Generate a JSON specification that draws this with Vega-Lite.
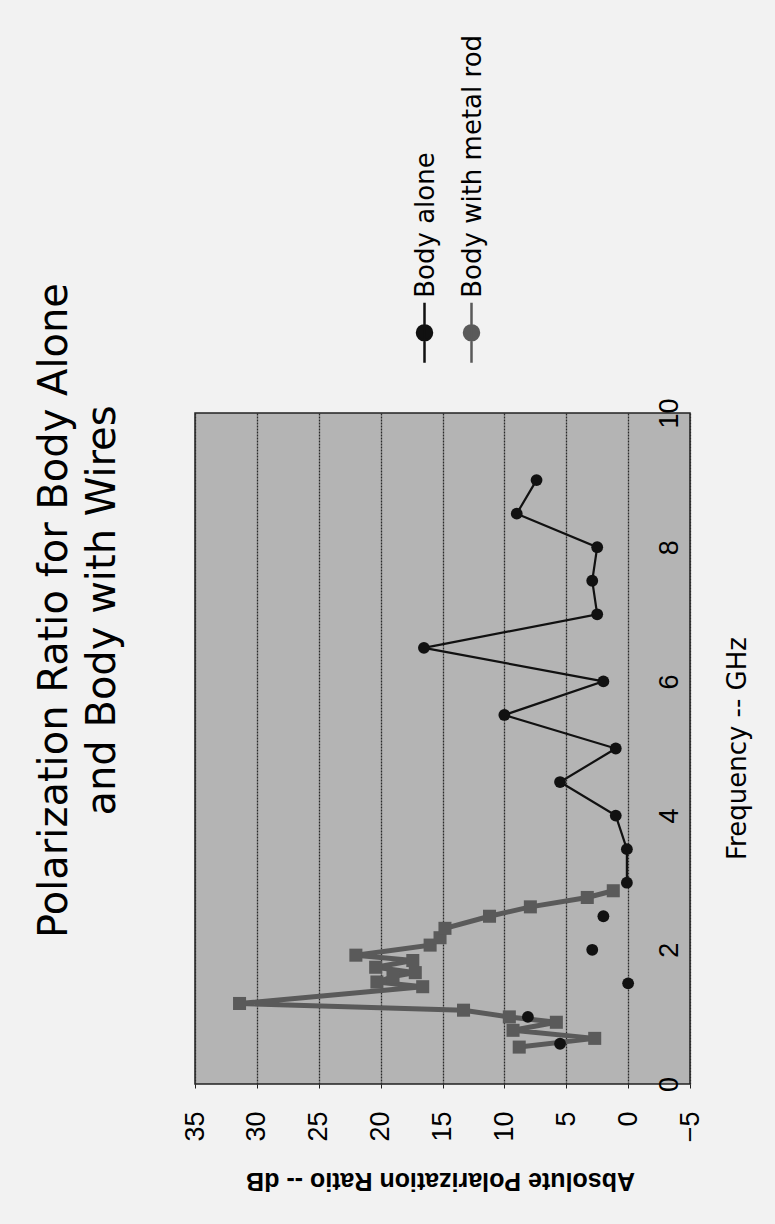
{
  "$schema": "https://vega.github.io/schema/vega-lite/v6.json",
  "width": 495,
  "height": 671,
  "autosize": "none",
  "padding": {"left": 195, "top": 413, "right": 85, "bottom": 140},
  "background": "#f2f2f2",
  "title": {
    "text": ["Polarization Ratio for Body Alone", "and Body with Wires"],
    "orient": "left",
    "anchor": "middle",
    "font": "DejaVu Sans",
    "fontSize": 40,
    "fontWeight": "normal",
    "lineHeight": 48,
    "color": "#000000",
    "offset": 58,
    "dx": 138
  },
  "data": {
    "values": [
      {"series": "Body with metal rod", "freq": 0.55, "db": 8.8, "seg": "m"},
      {"series": "Body with metal rod", "freq": 0.68, "db": 2.7, "seg": "m"},
      {"series": "Body with metal rod", "freq": 0.8, "db": 9.3, "seg": "m"},
      {"series": "Body with metal rod", "freq": 0.92, "db": 5.8, "seg": "m"},
      {"series": "Body with metal rod", "freq": 1.0, "db": 9.6, "seg": "m"},
      {"series": "Body with metal rod", "freq": 1.1, "db": 13.3, "seg": "m"},
      {"series": "Body with metal rod", "freq": 1.2, "db": 31.4, "seg": "m"},
      {"series": "Body with metal rod", "freq": 1.45, "db": 16.6, "seg": "m"},
      {"series": "Body with metal rod", "freq": 1.52, "db": 20.3, "seg": "m"},
      {"series": "Body with metal rod", "freq": 1.6, "db": 19.0, "seg": "m"},
      {"series": "Body with metal rod", "freq": 1.66, "db": 17.2, "seg": "m"},
      {"series": "Body with metal rod", "freq": 1.74, "db": 20.4, "seg": "m"},
      {"series": "Body with metal rod", "freq": 1.84, "db": 17.4, "seg": "m"},
      {"series": "Body with metal rod", "freq": 1.92, "db": 22.0, "seg": "m"},
      {"series": "Body with metal rod", "freq": 2.07, "db": 16.0, "seg": "m"},
      {"series": "Body with metal rod", "freq": 2.18, "db": 15.2, "seg": "m"},
      {"series": "Body with metal rod", "freq": 2.32, "db": 14.8, "seg": "m"},
      {"series": "Body with metal rod", "freq": 2.5, "db": 11.2, "seg": "m"},
      {"series": "Body with metal rod", "freq": 2.64, "db": 7.9, "seg": "m"},
      {"series": "Body with metal rod", "freq": 2.78, "db": 3.3, "seg": "m"},
      {"series": "Body with metal rod", "freq": 2.88, "db": 1.2, "seg": "m"},
      {"series": "Body alone", "freq": 9.0, "db": 7.4, "seg": "a"},
      {"series": "Body alone", "freq": 8.5, "db": 9.0, "seg": "a"},
      {"series": "Body alone", "freq": 8.0, "db": 2.5, "seg": "a"},
      {"series": "Body alone", "freq": 7.5, "db": 2.9, "seg": "a"},
      {"series": "Body alone", "freq": 7.0, "db": 2.5, "seg": "a"},
      {"series": "Body alone", "freq": 6.5, "db": 16.5, "seg": "a"},
      {"series": "Body alone", "freq": 6.0, "db": 2.0, "seg": "a"},
      {"series": "Body alone", "freq": 5.5, "db": 10.0, "seg": "a"},
      {"series": "Body alone", "freq": 5.0, "db": 1.0, "seg": "a"},
      {"series": "Body alone", "freq": 4.5, "db": 5.5, "seg": "a"},
      {"series": "Body alone", "freq": 4.0, "db": 1.0, "seg": "a"},
      {"series": "Body alone", "freq": 3.5, "db": 0.1, "seg": "a"},
      {"series": "Body alone", "freq": 3.0, "db": 0.1, "seg": "a"},
      {"series": "Body alone", "freq": 2.5, "db": 2.0, "seg": "b"},
      {"series": "Body alone", "freq": 2.0, "db": 2.9, "seg": "c"},
      {"series": "Body alone", "freq": 1.5, "db": 0.0, "seg": "d"},
      {"series": "Body alone", "freq": 1.0, "db": 8.1, "seg": "e"},
      {"series": "Body alone", "freq": 0.6, "db": 5.5, "seg": "f"}
    ]
  },
  "encoding": {
    "x": {
      "field": "db",
      "type": "quantitative",
      "scale": {"domain": [-5, 35], "reverse": true, "nice": false, "zero": false},
      "axis": {
        "values": [-5, 0, 5, 10, 15, 20, 25, 30, 35],
        "title": "Absolute Polarization Ratio -- dB",
        "titleFont": "Liberation Sans",
        "titleFontSize": 25,
        "titleFontWeight": "bold",
        "titleColor": "#000000",
        "titleAngle": 180,
        "titleX": 245,
        "titleY": 96,
        "titleAlign": "center",
        "titleBaseline": "middle",
        "labelAngle": 270,
        "labelAlign": "right",
        "labelBaseline": "middle",
        "labelFont": "Liberation Sans",
        "labelFontSize": 27,
        "labelColor": "#000000",
        "labelPadding": 23,
        "labelFlush": false,
        "labelOverlap": false,
        "tickSize": 4,
        "tickColor": "#222222",
        "domain": false,
        "grid": true,
        "gridColor": "#2a2a2a",
        "gridWidth": 1.3,
        "gridDash": [2, 1]
      }
    },
    "y": {
      "field": "freq",
      "type": "quantitative",
      "scale": {"domain": [0, 10], "nice": false},
      "axis": {
        "orient": "right",
        "values": [0, 2, 4, 6, 8, 10],
        "title": "Frequency -- GHz",
        "titleFont": "DejaVu Sans",
        "titleFontSize": 26,
        "titleFontWeight": "normal",
        "titleColor": "#000000",
        "titleAngle": 270,
        "titleX": 47,
        "titleY": 335,
        "titleAlign": "center",
        "titleBaseline": "middle",
        "labelAngle": 270,
        "labelAlign": "center",
        "labelBaseline": "middle",
        "labelFont": "Liberation Sans",
        "labelFontSize": 27,
        "labelColor": "#000000",
        "labelPadding": -21,
        "labelFlush": false,
        "labelOverlap": false,
        "ticks": false,
        "domain": false,
        "grid": false
      }
    },
    "color": {
      "field": "series",
      "type": "nominal",
      "scale": {"domain": ["Body alone", "Body with metal rod"], "range": ["#111111", "#5a5a5a"]},
      "legend": {
        "orient": "none",
        "legendX": 198,
        "legendY": -112,
        "direction": "horizontal",
        "title": null,
        "padding": 0,
        "columnPadding": -7,
        "symbolType": "M0,-1V1M-0.25,0A0.25,0.25,0,1,0,0.25,0A0.25,0.25,0,1,0,-0.25,0Z",
        "symbolSize": 3600,
        "symbolStrokeWidth": 2.5,
        "labelFont": "DejaVu Sans",
        "labelFontSize": 26,
        "labelColor": "#000000",
        "labelOffset": 0,
        "labelLimit": 600,
        "labelAlign": "left",
        "labelBaseline": "middle",
        "encode": {
          "labels": {"update": {"angle": {"value": -90}, "dx": {"value": 35}, "dy": {"value": -30}}},
          "symbols": {"update": {"fill": {"scale": "color", "field": "value"}, "stroke": {"scale": "color", "field": "value"}, "strokeWidth": {"value": 2.5}, "opacity": {"value": 1}}}
        }
      }
    }
  },
  "layer": [
    {
      "transform": [{"filter": "datum.series == 'Body with metal rod'"}],
      "mark": {"type": "line", "strokeWidth": 5},
      "encoding": {"order": {"field": "freq", "type": "quantitative"}, "detail": {"field": "seg"}}
    },
    {
      "transform": [{"filter": "datum.series == 'Body with metal rod'"}],
      "mark": {"type": "square", "size": 170, "filled": true, "opacity": 1}
    },
    {
      "transform": [{"filter": "datum.series == 'Body alone'"}],
      "mark": {"type": "line", "strokeWidth": 2.2},
      "encoding": {"order": {"field": "freq", "type": "quantitative"}, "detail": {"field": "seg"}}
    },
    {
      "transform": [{"filter": "datum.series == 'Body alone'"}],
      "mark": {"type": "circle", "size": 140, "opacity": 1}
    }
  ],
  "config": {
    "view": {"fill": "#b4b4b4", "stroke": "#222222", "strokeWidth": 1.5}
  }
}
